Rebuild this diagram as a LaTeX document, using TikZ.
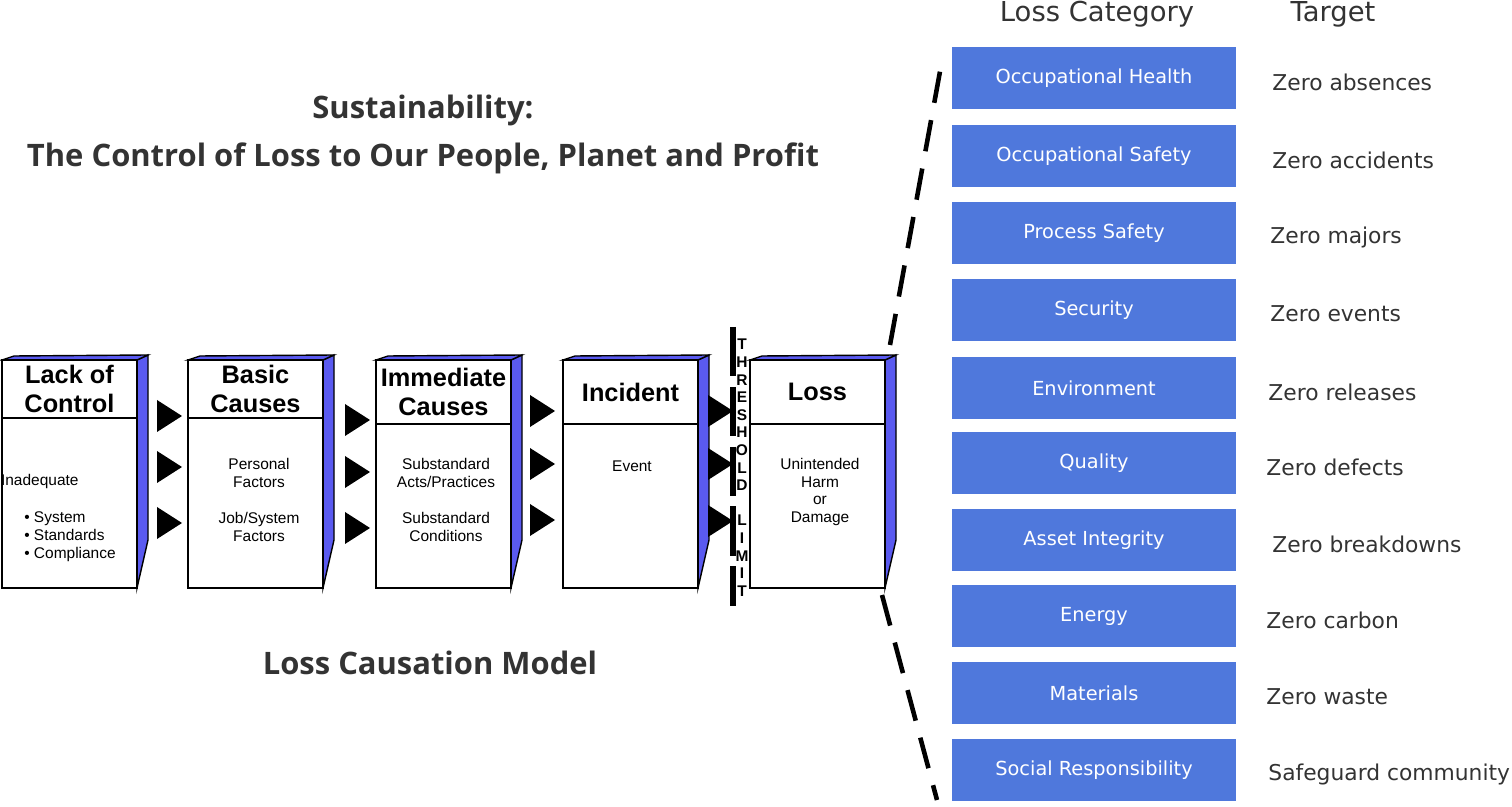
\documentclass[tikz,border=0pt]{standalone}
\usepackage{fontspec}
\setmainfont{Liberation Sans}
\newfontfamily\titlefont{Open Sans}
\newfontfamily\verdfont{DejaVu Sans}
\usetikzlibrary{positioning}
\definecolor{catblue}{HTML}{4F78DC}
\definecolor{sideblue}{HTML}{5A5AF0}
\tikzset{
  hd/.style={font=\fontsize{7.2}{8.2}\selectfont\bfseries, align=center},
  bd/.style={font=\fontsize{4.4}{5.1}\selectfont, align=center},
  cat/.style={fill=catblue, minimum width=2.84cm, minimum height=0.62cm, text=white,
    font=\verdfont\fontsize{5.5}{6.5}\selectfont},
  tgt/.style={anchor=west, text=black!80, font=\verdfont\fontsize{6.2}{7}\selectfont},
  tri/.style={fill=black}
}
\newcommand{\lossbox}[4]{% x, name, header line y, header text
  \fill[sideblue, draw=black, line width=0.4pt] (#1+135,360) -- (#1+146,355) -- (#1+146,540) -- (#1+135,588) -- cycle;
  \fill[sideblue, draw=black, line width=0.4pt] (#1,360) -- (#1+12,356) -- (#1+146,355) -- (#1+135,360) -- cycle;
  \draw[fill=white, line width=0.5pt] (#1,360) rectangle (#1+135,588);
  \draw[line width=0.5pt] (#1,#3) -- (#1+135,#3);
  \node[hd] (#2) at (#1+67.5,{(360+#3)/2}) {#4};
}
\newcommand{\arrtri}[2]{% x, y
  \fill (#1,#2-16) -- (#1+25,#2) -- (#1,#2+16) -- cycle;
}
\begin{document}
\begin{tikzpicture}[x=0.01cm,y=-0.01cm]
\useasboundingbox (0,0) rectangle (1512,807);

% titles
\node[font=\titlefont\fontsize{8.8}{10}\selectfont\bfseries, text=black!80] (title1) at (423,110) {Sustainability:};
\node[font=\titlefont\fontsize{8.8}{10}\selectfont\bfseries, text=black!80] (title2) at (423,158) {The Control of Loss to Our People, Planet and Profit};
\node[font=\titlefont\fontsize{8.8}{10}\selectfont\bfseries, text=black!80] (model) at (430,663) {Loss Causation Model};

% causation chain
\lossbox{2}{lack}{418}{Lack of\\Control}
\lossbox{188}{basic}{418}{Basic\\Causes}
\lossbox{376}{imm}{424}{Immediate\\Causes}
\lossbox{563}{inc}{424}{Incident}
\lossbox{750}{loss}{424}{Loss}

\node[bd, align=left] (lackb) at (70,518) {\hspace*{-1.5em}Inadequate\\[1.2em]\textbullet\ System\\\textbullet\ Standards\\\textbullet\ Compliance};
\node[bd] (basicb) at (259,500) {Personal\\Factors\\[1.2em]Job/System\\Factors};
\node[bd] (immb) at (446,500) {Substandard\\Acts/Practices\\[1.2em]Substandard\\Conditions};
\node[bd] (incb) at (632,466) {Event};
\node[bd] (lossb) at (820,492) {Unintended\\Harm\\or\\Damage};

% arrows
\foreach \y in {416,467,523} {\arrtri{157}{\y}}
\foreach \y in {420,472,528} {\arrtri{345}{\y}}
\foreach \y in {411,464,520} {\arrtri{530}{\y}}
\foreach \y in {411,464,521} {\arrtri{708}{\y}}

% threshold
\draw[line width=1.6pt, dash pattern=on 14pt off 3pt] (733,327) -- (733,606);
\foreach \l [count=\i] in {T,H,R,E,S,H,O,L,D, ,L,I,M,I,T}
  \node[font=\fontsize{4.4}{5}\selectfont\bfseries, inner sep=0pt] (th\i) at (742,327+\i*17.6) {\l};

% loss categories
\node[font=\verdfont\fontsize{7.8}{9}\selectfont, text=black!80] (cathd) at (1097,14) {Loss Category};
\node[font=\verdfont\fontsize{7.8}{9}\selectfont, text=black!80] (tgthd) at (1333,14) {Target};
\foreach \c/\t/\y/\tx [count=\i] in {
  Occupational Health/Zero absences/78/1260,
  Occupational Safety/Zero accidents/156/1260,
  Process Safety/Zero majors/233/1258,
  Security/Zero events/310/1258,
  Environment/Zero releases/388/1256,
  Quality/Zero defects/463/1254,
  Asset Integrity/Zero breakdowns/540/1260,
  Energy/Zero carbon/616/1254,
  Materials/Zero waste/693/1254,
  Social Responsibility/Safeguard community/770/1256}
{
  \node[cat] (c\i) at (1094,\y) {\c};
  \node[tgt] (t\i) at (\tx,\y+4) {\t};
}

% dashed bracket
\coordinate (bt) at (943,55);
\coordinate (bb) at (937,800);
\coordinate (lt) at (890,345);
\coordinate (lb) at (882,595);
\draw[line width=1.3pt, dash pattern=on 9pt off 5pt] (lt) -- (bt);
\draw[line width=1.3pt, dash pattern=on 9pt off 5pt] (lb) -- (bb);
\end{tikzpicture}
\end{document}
